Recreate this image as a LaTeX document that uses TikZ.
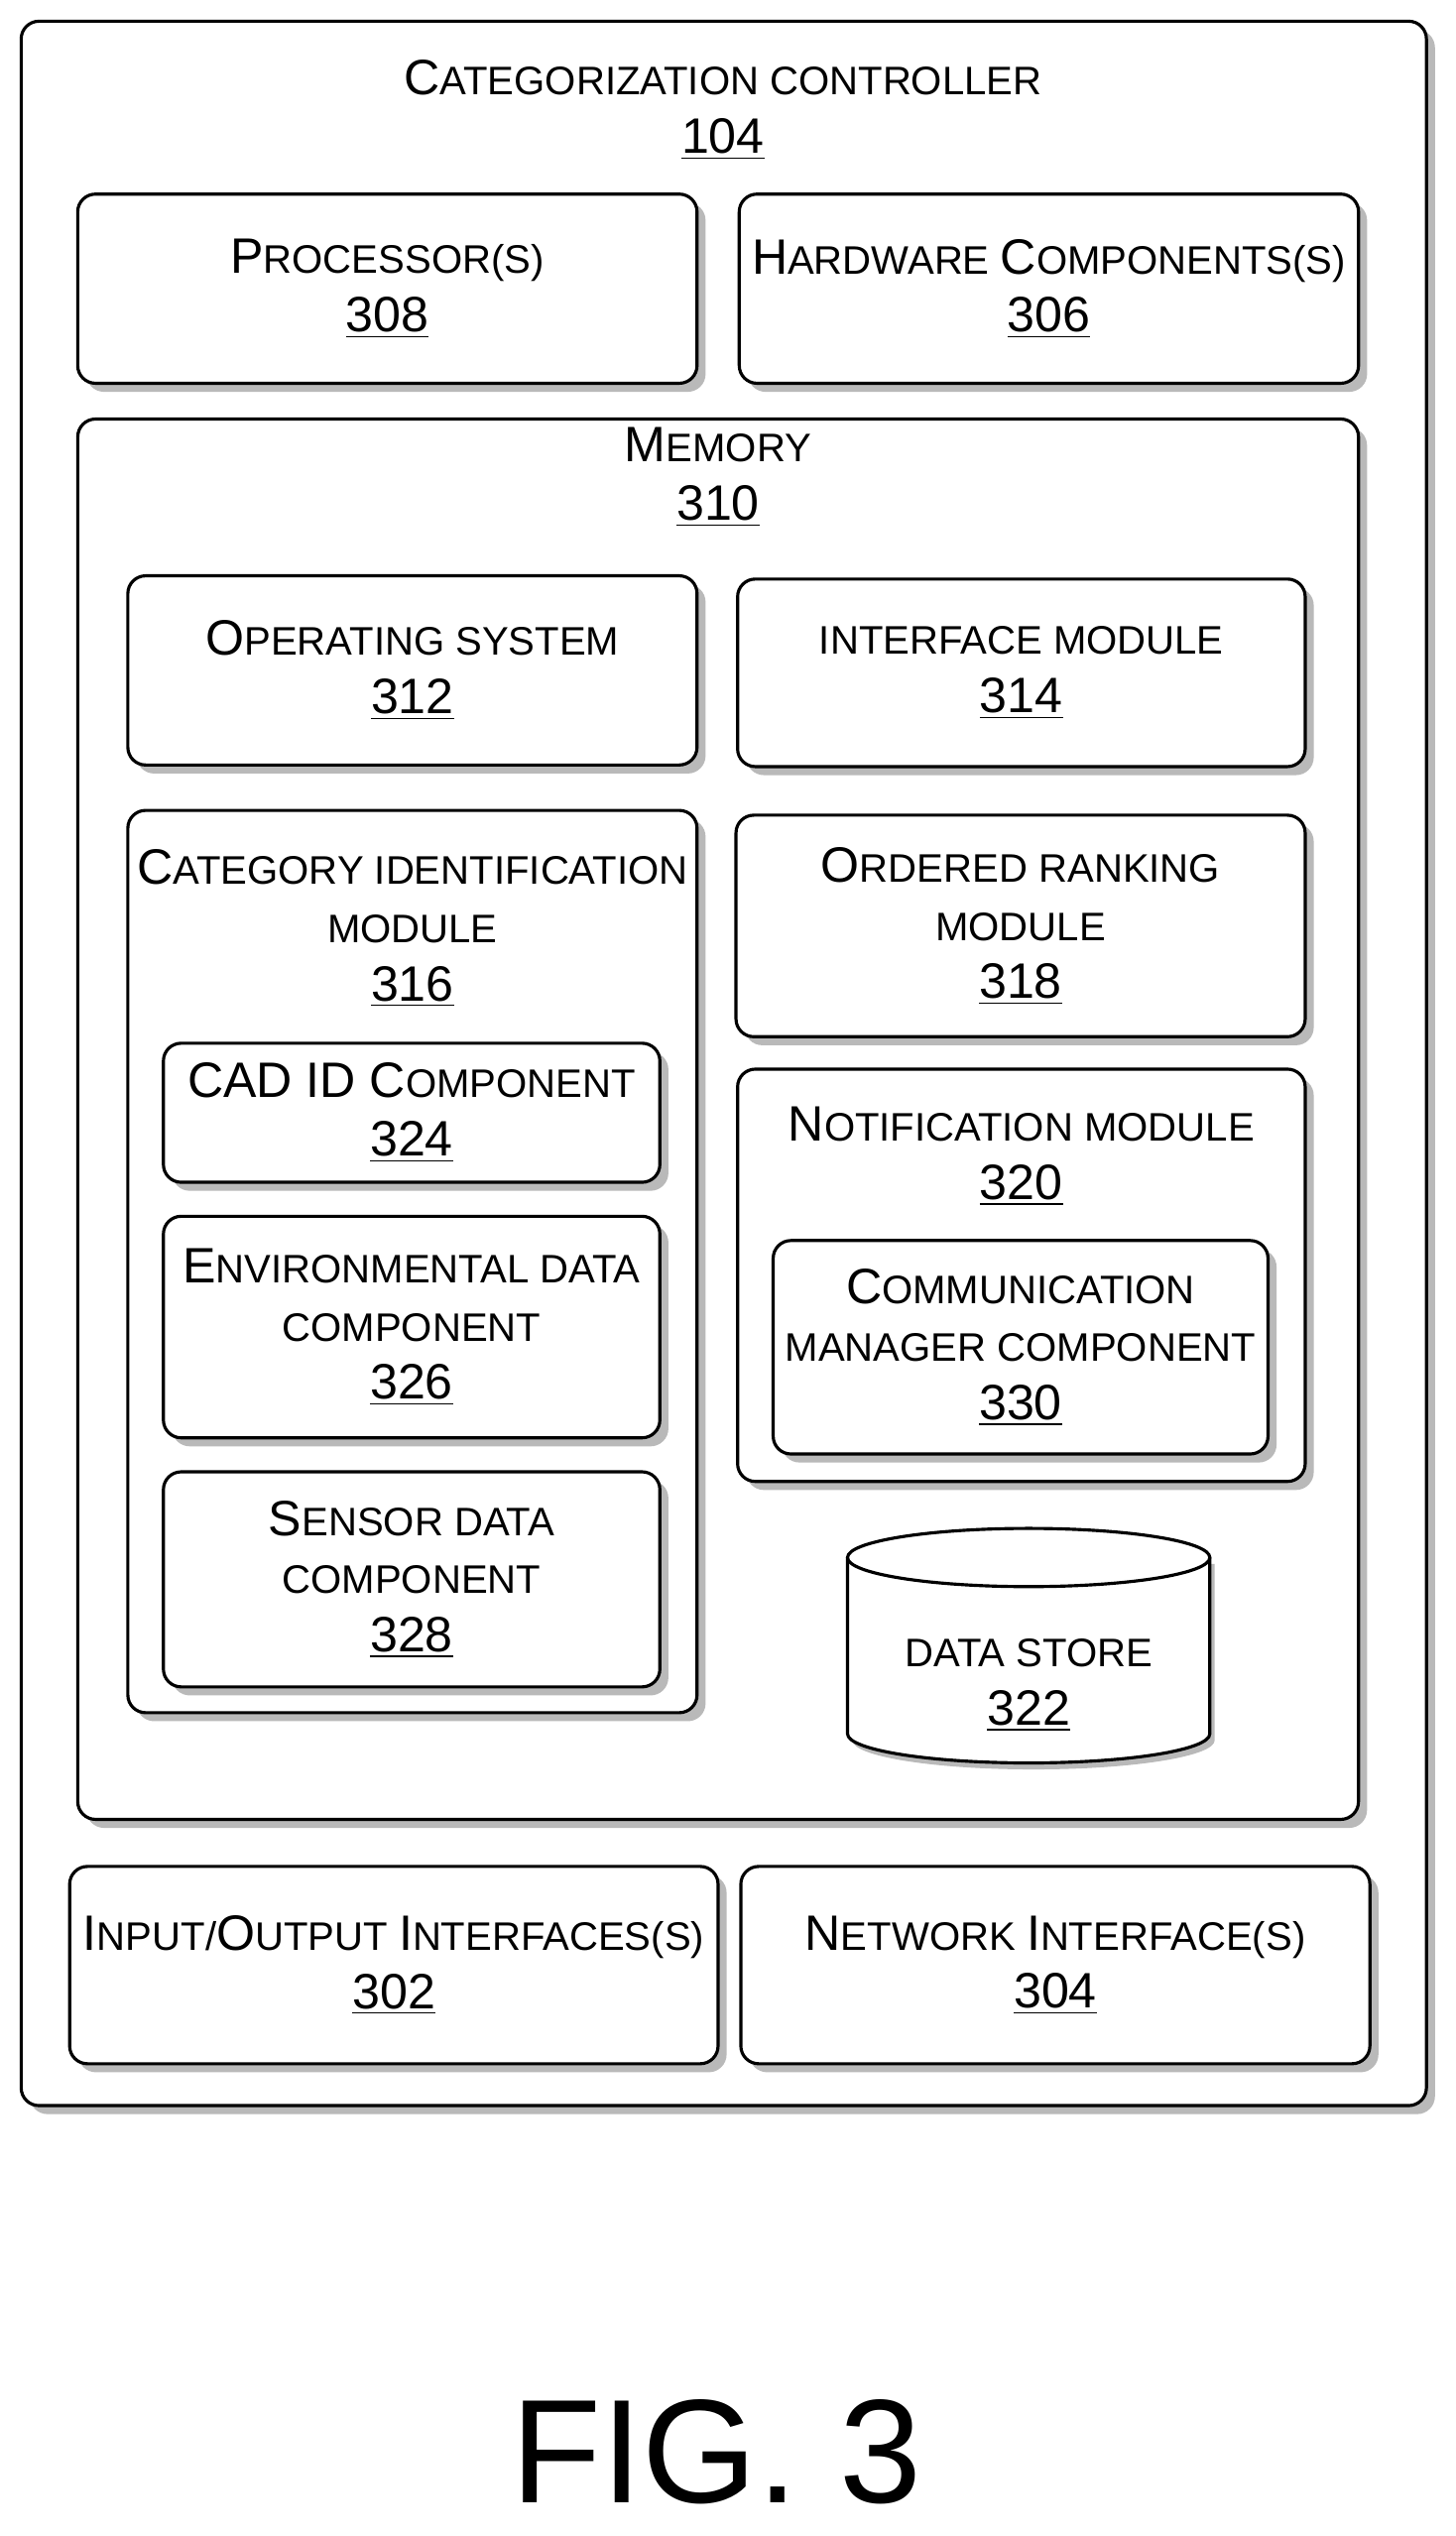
\documentclass[tikz,border=0pt]{standalone}
\usepackage{fontspec}
\setmainfont{Liberation Sans}
\usetikzlibrary{shadows}
\newcommand\C[1]{{\fontsize{17.5}{20}\selectfont #1}}
\newcommand\num[1]{\C{\underline{#1}}}
\tikzset{
  box/.style={draw, line width=1.1pt, rounded corners=0.22cm, fill=white,
    drop shadow={shadow xshift=3pt, shadow yshift=-3pt, fill=gray!55, opacity=1},
    align=center, font=\fontsize{14}{20.5}\selectfont, inner sep=0pt},
  lbl/.style={align=center, font=\fontsize{14}{20.5}\selectfont, inner sep=0pt}
}
\begin{document}
\begin{tikzpicture}[x=0.02cm, y=-0.02cm]
\useasboundingbox (0,0) rectangle (900,1568);
% outer controller
\node[box, minimum width=17.38cm, minimum height=25.78cm] (ctrl) at (447.5,657.5) {};
\node[lbl] (ctrlt) at (447,68) {\C{C}ATEGORIZATION CONTROLLER\\\num{104}};
\node[box, minimum width=7.66cm, minimum height=2.34cm] (proc) at (239.5,178.5) {\C{P}ROCESSOR(S)\\\num{308}};
\node[box, minimum width=7.66cm, minimum height=2.34cm] (hw) at (648.5,178.5) {\C{H}ARDWARE \C{C}OMPONENTS(S)\\\num{306}};
% memory
\node[box, minimum width=15.84cm, minimum height=17.32cm] (mem) at (444,692) {};
\node[lbl] (memt) at (444,295) {\C{M}EMORY\\\num{310}};
\node[box, minimum width=7.04cm, minimum height=2.34cm] (os) at (255,414.5) {\C{O}PERATING SYSTEM\\\num{312}};
\node[box, minimum width=7.02cm, minimum height=2.32cm] (iface) at (631.5,416) {INTERFACE MODULE\\\num{314}};
% category identification
\node[box, minimum width=7.04cm, minimum height=11.16cm] (cat) at (255,780) {};
\node[lbl] (catt) at (255,574) {\C{C}ATEGORY IDENTIFICATION\\MODULE\\\num{316}};
\node[box, minimum width=6.14cm, minimum height=1.72cm] (cad) at (254.5,688) {\C{CAD ID C}OMPONENT\\\num{324}};
\node[box, minimum width=6.14cm, minimum height=2.74cm] (env) at (254.5,820.5) {\C{E}NVIRONMENTAL DATA\\COMPONENT\\\num{326}};
\node[box, minimum width=6.14cm, minimum height=2.66cm] (sens) at (254.5,976.5) {\C{S}ENSOR DATA\\COMPONENT\\\num{328}};
\node[box, minimum width=7.04cm, minimum height=2.74cm] (rank) at (631,572.5) {\C{O}RDERED RANKING\\MODULE\\\num{318}};
% notification
\node[box, minimum width=7.02cm, minimum height=5.10cm] (notif) at (631.5,788.5) {};
\node[lbl] (notift) at (631.5,715) {\C{N}OTIFICATION MODULE\\\num{320}};
\node[box, minimum width=6.12cm, minimum height=2.64cm] (comm) at (631,833) {\C{C}OMMUNICATION\\MANAGER COMPONENT\\\num{330}};
% data store
\fill[gray!55, shift={(3,4)}] (524,963) -- (524,1072) arc[start angle=180, end angle=0, x radius=112, y radius=18] -- (748,963) -- cycle;
\draw[line width=1.1pt, fill=white] (524,963) -- (524,1072) arc[start angle=180, end angle=0, x radius=112, y radius=18] -- (748,963);
\draw[line width=1.1pt, fill=white] (636,963) ellipse[x radius=112, y radius=18];
\node[lbl] (store) at (636,1042) {DATA STORE\\\num{322}};
% interfaces
\node[box, minimum width=8.02cm, minimum height=2.44cm] (io) at (243.5,1215) {\C{I}NPUT/\C{O}UTPUT \C{I}NTERFACES(S)\\\num{302}};
\node[box, minimum width=7.78cm, minimum height=2.44cm] (net) at (652.5,1215) {\C{N}ETWORK \C{I}NTERFACE(S)\\\num{304}};
\node[font=\fontsize{52}{56}\selectfont, inner sep=0pt] (fig) at (443,1516) {FIG. 3};
\end{tikzpicture}
\end{document}
